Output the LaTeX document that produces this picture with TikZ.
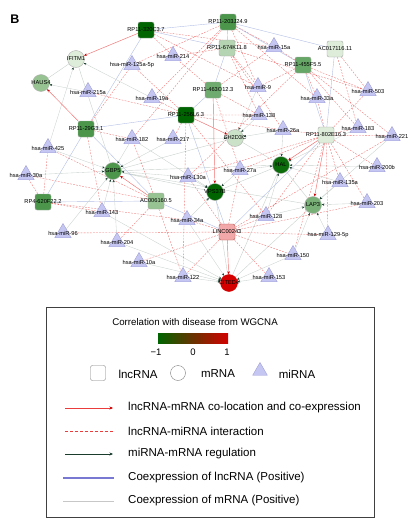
\documentclass[tikz,border=0pt]{standalone}
\usepackage{fontspec}
\setmainfont{Liberation Sans}
\usepackage{tikz}
\usetikzlibrary{shapes.geometric, arrows.meta, backgrounds}
\definecolor{lncdark}{RGB}{0, 100, 0}
\definecolor{lncmid}{RGB}{75, 150, 75}
\definecolor{lnclight}{RGB}{150, 195, 145}
\definecolor{lncpale}{RGB}{222, 236, 218}
\definecolor{lncpink}{RGB}{242, 168, 168}
\definecolor{mirfill}{RGB}{198, 198, 242}
\definecolor{mirdraw}{RGB}{160, 160, 215}
\definecolor{hitred}{RGB}{212, 0, 0}
\definecolor{edgered}{RGB}{242, 110, 110}
\definecolor{edgeblue}{RGB}{180, 192, 230}
\definecolor{edgegray}{RGB}{200, 210, 205}
\definecolor{reggreen}{RGB}{25, 60, 45}
\definecolor{keyblue}{RGB}{120, 120, 210}
\definecolor{keyred}{RGB}{235, 60, 60}

\begin{document}
\begin{tikzpicture}[x=1pt, y=-1pt,
    lnc/.style={rectangle, rounded corners=2pt, minimum size=16pt, inner sep=0pt,
                draw=black!35, line width=0.4pt},
    mrna/.style={circle, minimum size=17pt, inner sep=0pt, draw=black!30, line width=0.4pt},
    mir/.style={regular polygon, regular polygon sides=3, minimum size=19pt, inner sep=0pt,
                fill=mirfill, draw=mirdraw, line width=0.4pt},
    lbl/.style={font=\fontsize{5.7}{6}\selectfont, text=black, inner sep=0pt},
    coloc/.style={draw=edgered, line width=0.45pt, -{Stealth[length=3pt, width=2.6pt, color=red!80!black]}},
    inter/.style={draw=edgered, line width=0.35pt, dash pattern=on 1.8pt off 1.3pt},
    reg/.style={draw=edgegray, line width=0.35pt, -{Stealth[length=2.6pt, width=2.2pt, color=reggreen]}},
    lnccoex/.style={draw=edgeblue, line width=0.4pt},
    mcoex/.style={draw=edgegray, line width=0.4pt},
    key/.style={font=\fontsize{11.5}{13}\selectfont, anchor=west, inner sep=0pt}
]
\useasboundingbox (0,0) rectangle (418,522);

\node[font=\fontsize{12.5}{14}\selectfont\bfseries] (panel) at (15,19) {B};

% lncRNA nodes
\node[lnc, fill=lncdark, label={[lbl]center:RP11-320C3.7}] (r320) at (146,30) {};
\node[lnc, fill=lncmid, label={[lbl]center:RP11-203J24.9}] (r203) at (228,22) {};
\node[lnc, fill=lnclight!70!white, label={[lbl]center:RP11-674K11.8}] (r674) at (227,48) {};
\node[lnc, fill=lncpale, label={[lbl]center:AC017116.11}] (ac017) at (335,49) {};
\node[lnc, fill=lncmid!85!white, label={[lbl]center:RP11-455F5.5}] (r455) at (303,65) {};
\node[lnc, fill=lncmid!80!white, label={[lbl]center:RP11-463O12.3}] (r463) at (213,90) {};
\node[lnc, fill=lncdark, label={[lbl]center:RP11-256L6.3}] (r256) at (186,115) {};
\node[lnc, fill=lncmid, label={[lbl]center:RP11-29G3.1}] (r29g) at (86,129) {};
\node[lnc, fill=lncpale, label={[lbl]center:RP11-802E16.3}] (r802) at (326,135) {};
\node[lnc, fill=lncmid, label={[lbl]center:RP4-620F22.2}] (rp4) at (43,202) {};
\node[lnc, fill=lnclight, label={[lbl]center:AC006160.5}] (ac006) at (156,201) {};
\node[lnc, fill=lncpink, draw=red!40!gray, label={[lbl]center:LINC00243}] (linc) at (227,232) {};

% mRNA nodes
\node[mrna, fill=lncpale, label={[lbl]center:IFITM1}] (ifitm) at (76,59) {};
\node[mrna, fill=lnclight, label={[lbl]center:HAUS4}] (haus) at (41,83) {};
\node[mrna, fill=lnclight!50!white, label={[lbl]center:SH2D3C}] (sh2d) at (235,138) {};
\node[mrna, fill=lncmid, label={[lbl]center:GBP5}] (gbp) at (113,171) {};
\node[mrna, fill=lncdark!85!lncmid, label={[lbl]center:HAL}] (hal) at (281,165) {};
\node[mrna, fill=lncdark, label={[lbl]center:VPS37B}] (vps) at (215,192) {};
\node[mrna, fill=lncmid!75!white, label={[lbl]center:LAP3}] (lap) at (313,205) {};
\node[mrna, fill=hitred, draw=hitred, label={[lbl]center:CITED4}] (cited) at (229,283) {};

% miRNA nodes
\node[mir, label={[lbl]center:hsa-miR-125a-5p}] (m125) at (132,65) {};
\node[mir, label={[lbl]center:hsa-miR-214}] (m214) at (173,56) {};
\node[mir, label={[lbl]center:hsa-miR-215a}] (m215) at (88,92) {};
\node[mir, label={[lbl]center:hsa-miR-19a}] (m19) at (152,98) {};
\node[mir, label={[lbl]center:hsa-miR-182}] (m182) at (132,139) {};
\node[mir, label={[lbl]center:hsa-miR-217}] (m217) at (173,139) {};
\node[mir, label={[lbl]center:hsa-miR-15a}] (m15) at (274,47) {};
\node[mir, label={[lbl]center:hsa-miR-9}] (m9) at (258,87) {};
\node[mir, label={[lbl]center:hsa-miR-33a}] (m33) at (317,98) {};
\node[mir, label={[lbl]center:hsa-miR-503}] (m503) at (368,91) {};
\node[mir, label={[lbl]center:hsa-miR-138}] (m138) at (259,115) {};
\node[mir, label={[lbl]center:hsa-miR-26a}] (m26) at (283,130) {};
\node[mir, label={[lbl]center:hsa-miR-183}] (m183) at (358,128) {};
\node[mir, label={[lbl]center:hsa-miR-221}] (m221) at (392,136) {};
\node[mir, label={[lbl]center:hsa-miR-425}] (m425) at (48,148) {};
\node[mir, label={[lbl]center:hsa-miR-30a}] (m30) at (26,175) {};
\node[mir, label={[lbl]center:hsa-miR-130a}] (m130) at (188,177) {};
\node[mir, label={[lbl]center:hsa-miR-143}] (m143) at (102,212) {};
\node[mir, label={[lbl]center:hsa-miR-34a}] (m34) at (187,220) {};
\node[mir, label={[lbl]center:hsa-miR-96}] (m96) at (63,233) {};
\node[mir, label={[lbl]center:hsa-miR-204}] (m204) at (117,242) {};
\node[mir, label={[lbl]center:hsa-miR-10a}] (m10) at (139,262) {};
\node[mir, label={[lbl]center:hsa-miR-200b}] (m200) at (377,167) {};
\node[mir, label={[lbl]center:hsa-miR-27a}] (m27) at (240,170) {};
\node[mir, label={[lbl]center:hsa-miR-135a}] (m135) at (340,182) {};
\node[mir, label={[lbl]center:hsa-miR-203}] (m203) at (367,203) {};
\node[mir, label={[lbl]center:hsa-miR-128}] (m128) at (266,216) {};
\node[mir, label={[lbl]center:hsa-miR-129-5p}] (m129) at (328,235) {};
\node[mir, label={[lbl]center:hsa-miR-150}] (m150) at (293,255) {};
\node[mir, label={[lbl]center:hsa-miR-122}] (m122) at (183,277) {};
\node[mir, label={[lbl]center:hsa-miR-153}] (m153) at (269,277) {};

\begin{scope}[on background layer]
% Coexpression of mRNA
\draw[mcoex] (ifitm) -- (haus) (ifitm) -- (gbp) (gbp) -- (sh2d) (gbp) -- (hal)
    (gbp) -- (lap) (gbp) -- (vps) (hal) -- (lap) (sh2d) -- (hal) (vps) -- (hal)
    (lap) -- (cited) (vps) -- (cited) (hal) -- (cited);

% Coexpression of lncRNA
\draw[lnccoex] (r320) -- (r203) (r320) -- (r674) (r203) -- (r674) (r203) -- (ac017)
    (r203) -- (r455) (r674) -- (r463) (r463) -- (r256) (r256) -- (r29g) (r29g) -- (rp4)
    (r29g) -- (ac006) (rp4) -- (ac006) (ac006) -- (linc) (r256) -- (linc) (r455) -- (r802)
    (ac017) -- (r802) (r320) -- (r29g) (r802) -- (linc);

% miRNA-mRNA regulation
\foreach \a/\b in {m19/ifitm, m425/ifitm, m215/haus, m182/gbp, m217/gbp, m425/gbp, m30/gbp,
    m130/gbp, m143/gbp, m204/gbp, m96/gbp, m138/sh2d, m26/sh2d, m217/sh2d, m9/sh2d,
    m27/hal, m26/hal, m135/hal, m128/hal, m200/hal, m183/hal, m130/vps, m27/vps, m34/vps,
    m182/vps, m135/lap, m203/lap, m129/lap, m150/lap, m128/lap, m221/lap, m122/cited,
    m153/cited, m10/cited, m150/cited, m34/cited, m204/cited, m143/cited}
    \draw[reg] (\a) -- (\b);

% lncRNA-miRNA interaction
\draw[inter] (r320) -- (m214) (r320) -- (m15) (r320) -- (m9)
    (r203) -- (m125) (r203) -- (m19) (r203) -- (m182) (r203) -- (m15) (r203) -- (m9) (r203) -- (m33)
    (r674) -- (m214) (r674) -- (m138) (r674) -- (m26) (r674) -- (m9) (r674) -- (m503)
    (ac017) -- (m503) (ac017) -- (m183)
    (r455) -- (m15) (r455) -- (m9) (r455) -- (m33) (r455) -- (m183) (r455) -- (m503)
    (r455) -- (m221) (r455) -- (m130)
    (r463) -- (m214) (r463) -- (m138) (r463) -- (m27) (r463) -- (m15)
    (r256) -- (m19) (r256) -- (m215) (r256) -- (m138) (r256) -- (m26) (r256) -- (m128)
    (r256) -- (m217) (r256) -- (m122) (r256) -- (m125)
    (r29g) -- (m125) (r29g) -- (m182) (r29g) -- (m143)
    (r802) -- (m503) (r802) -- (m183) (r802) -- (m221) (r802) -- (m200) (r802) -- (m135)
    (r802) -- (m203) (r802) -- (m129) (r802) -- (m150) (r802) -- (m128) (r802) -- (m33)
    (r802) -- (m26) (r802) -- (m130) (r802) -- (m27)
    (rp4) -- (m30) (rp4) -- (m425) (rp4) -- (m34) (rp4) -- (m143)
    (ac006) -- (m30) (ac006) -- (m425) (ac006) -- (m204) (ac006) -- (m122) (ac006) -- (m182)
    (linc) -- (m96) (linc) -- (m10) (linc) -- (m122) (linc) -- (m153) (linc) -- (m150)
    (linc) -- (m129) (linc) -- (m128) (linc) -- (m27) (linc) -- (m34) (linc) -- (m203)
    (linc) -- (m130) (linc) -- (m221);

% lncRNA-mRNA co-location
\draw[coloc] (r320) -- (ifitm);
\draw[coloc] (r29g) -- (haus);
\draw[coloc] (r256) -- (sh2d);
\draw[coloc] (ac006) -- (gbp);
\draw[coloc] (r802) -- (hal);
\draw[coloc] (r802) -- (lap);
\draw[coloc] (r463) -- (vps);
\draw[coloc] (linc) -- (cited);
\end{scope}

% Legend
\draw[draw=black!75, line width=1pt] (46,307) rectangle (374,517);
\node[font=\fontsize{9.7}{11}\selectfont] (keytitle) at (195,322) {Correlation with disease from WGCNA};
\shade[left color=lncdark, middle color=white, right color=hitred] (158,333) rectangle (228,343);
\node[font=\fontsize{9.5}{11}\selectfont] (tickneg) at (156,352) {−1};
\node[font=\fontsize{9.5}{11}\selectfont] (tickzero) at (193,352) {0};
\node[font=\fontsize{9.5}{11}\selectfont] (tickpos) at (227,352) {1};

\node[lnc, minimum size=15pt, fill=white, draw=black!50] (keylnc) at (98,373) {};
\node[font=\fontsize{11.5}{13}\selectfont] (keylnctext) at (138,374) {lncRNA};
\node[mrna, minimum size=15pt, fill=white, draw=black!50] (keymrna) at (178,373) {};
\node[font=\fontsize{11.5}{13}\selectfont] (keymrnatext) at (218,374) {mRNA};
\node[mir, minimum size=17pt] (keymir) at (260,371) {};
\node[font=\fontsize{11.5}{13}\selectfont] (keymirtext) at (297,374) {miRNA};

\coordinate (k1s) at (65,408);  \coordinate (k1e) at (113,408);
\coordinate (k2s) at (65,431);  \coordinate (k2e) at (113,431);
\coordinate (k3s) at (65,454);  \coordinate (k3e) at (113,454);
\coordinate (k4s) at (63,478);  \coordinate (k4e) at (114,478);
\coordinate (k5s) at (63,501);  \coordinate (k5e) at (114,501);
\draw[draw=keyred, line width=0.6pt, -{Stealth[length=3.5pt, width=3pt, color=red!80!black]}] (k1s) -- (k1e);
\draw[draw=keyred, line width=0.8pt, dash pattern=on 3pt off 2pt] (k2s) -- (k2e);
\draw[draw=reggreen, line width=0.6pt, -{Stealth[length=3.5pt, width=3pt]}] (k3s) -- (k3e);
\draw[draw=keyblue, line width=1.4pt] (k4s) -- (k4e);
\draw[draw=black!22, line width=0.6pt] (k5s) -- (k5e);
\node[key] (key1) at (128,408) {lncRNA-mRNA co-location and co-expression};
\node[key] (key2) at (128,431) {lncRNA-miRNA interaction};
\node[key] (key3) at (128,454) {miRNA-mRNA regulation};
\node[key] (key4) at (128,478) {Coexpression of lncRNA (Positive)};
\node[key] (key5) at (128,501) {Coexpression of mRNA (Positive)};

\end{tikzpicture}
\end{document}
